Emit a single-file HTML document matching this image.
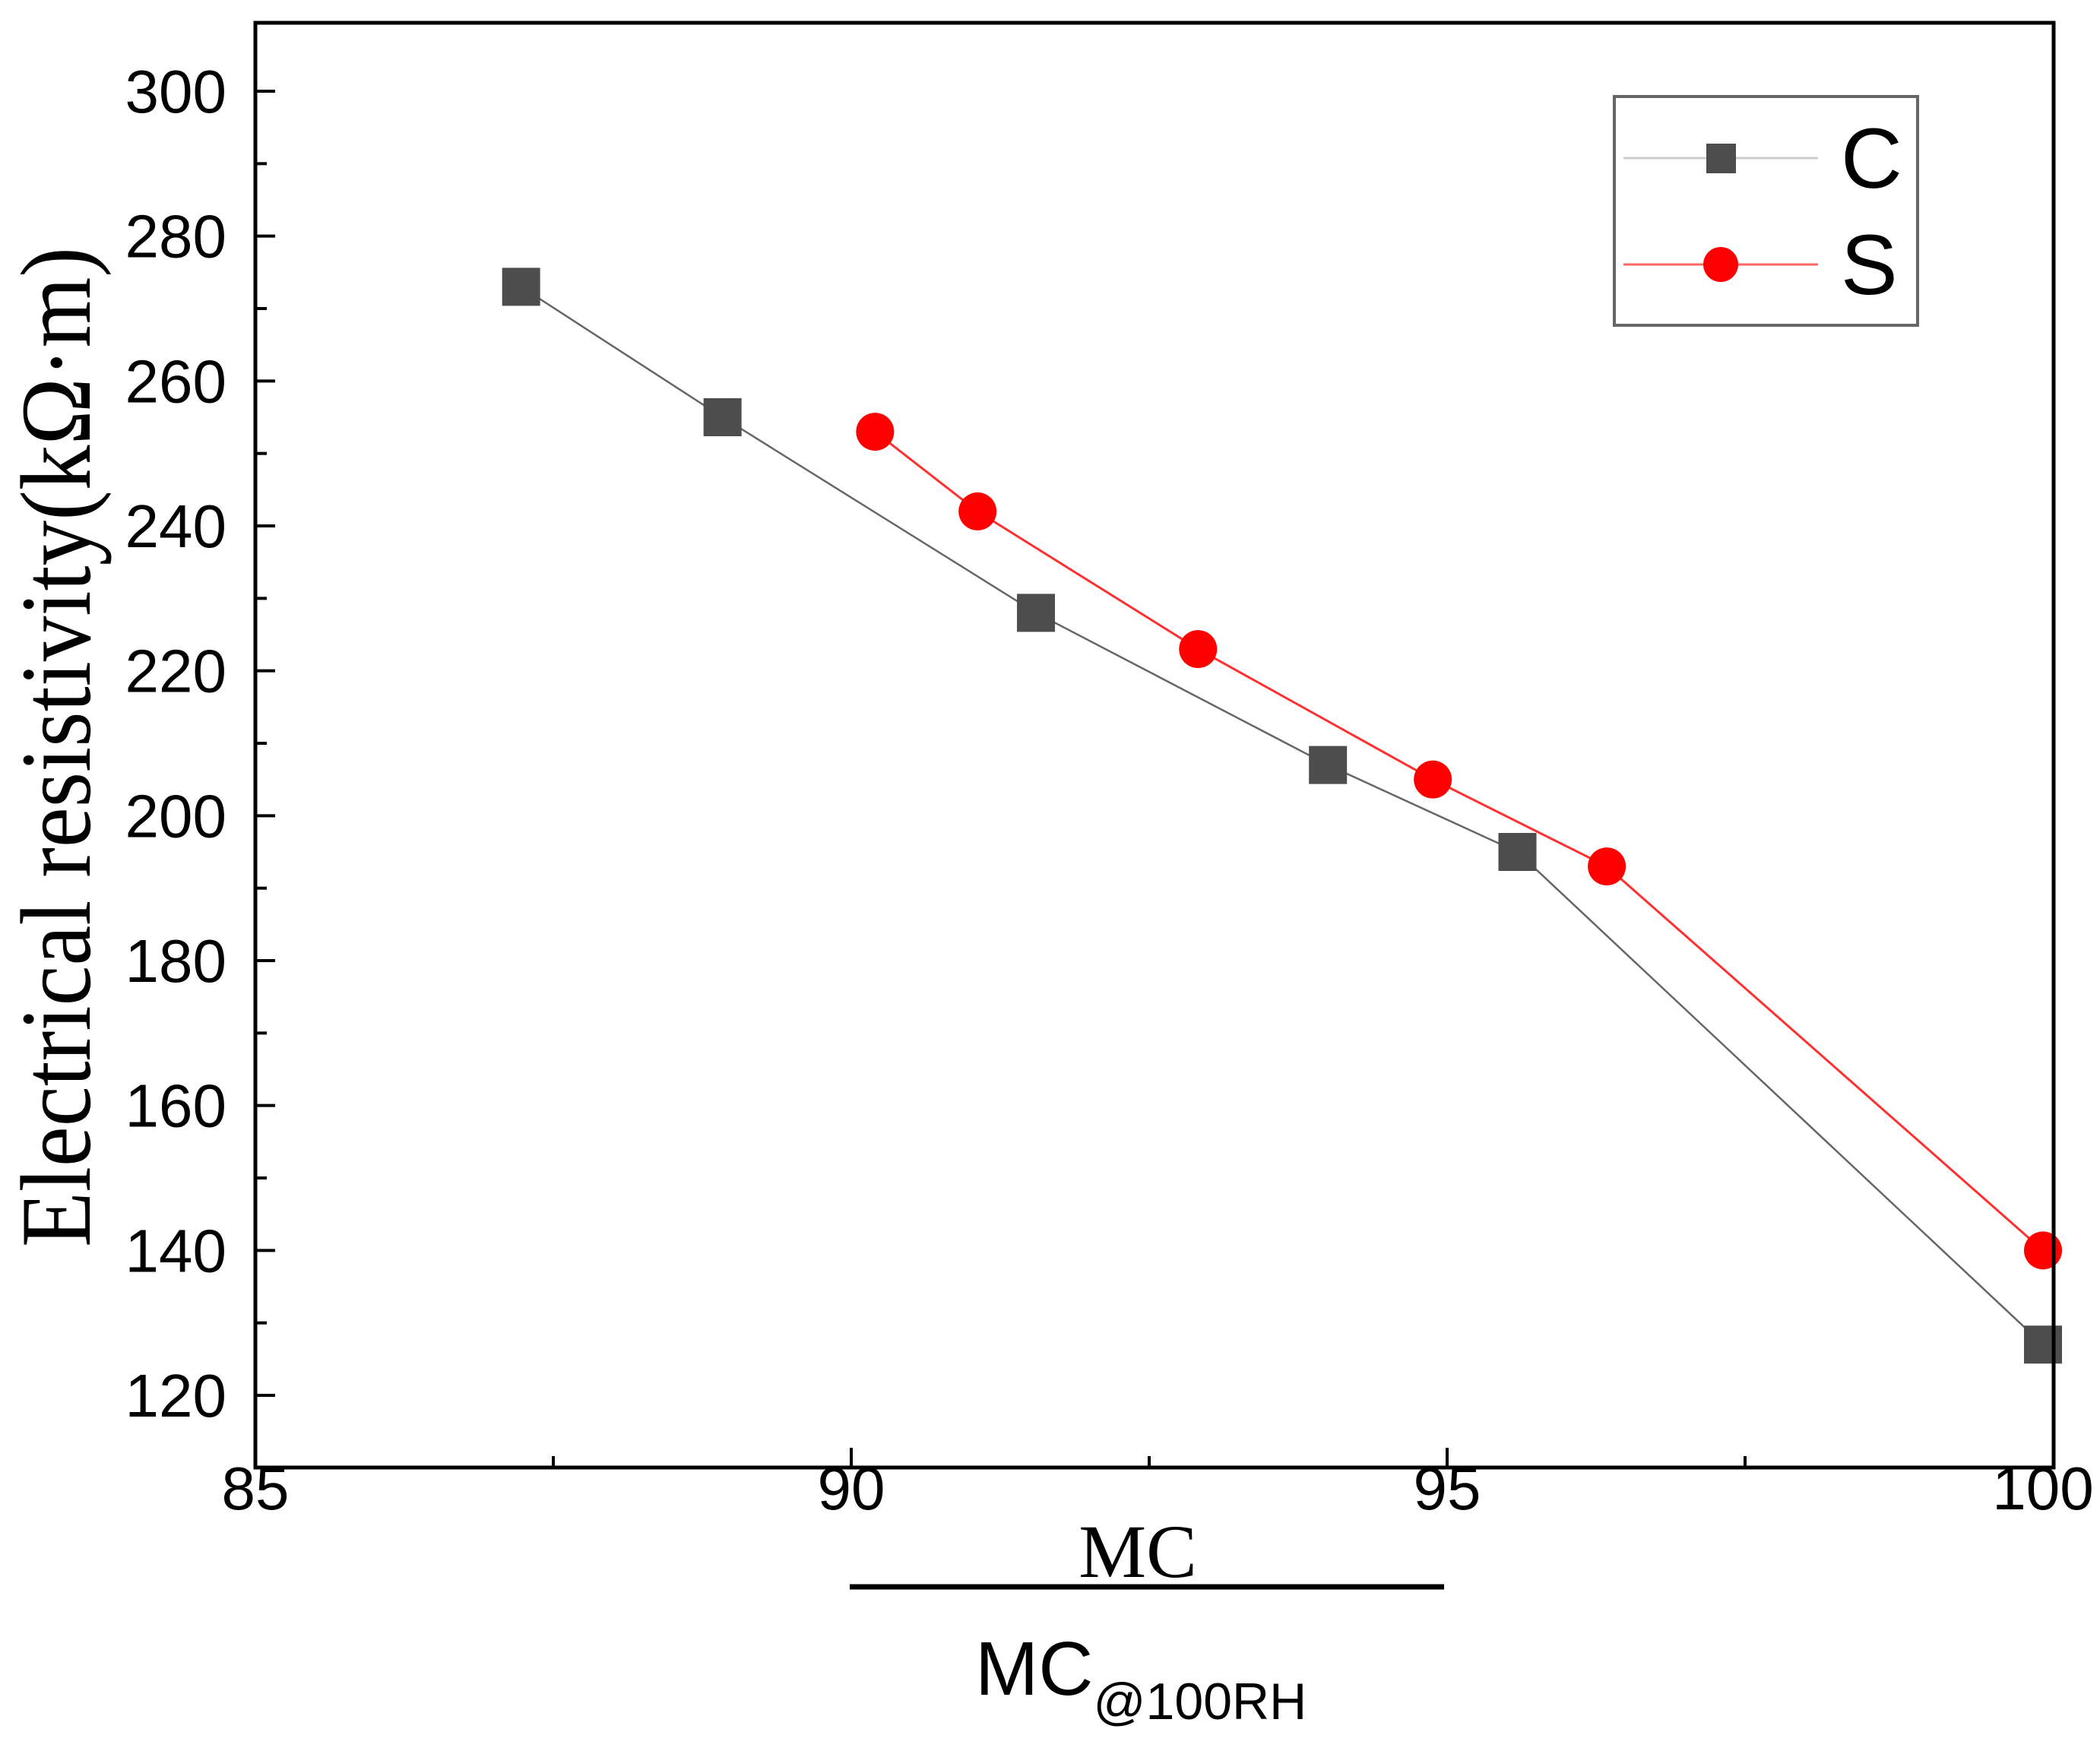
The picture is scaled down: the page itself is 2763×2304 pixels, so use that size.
<!DOCTYPE html>
<html><head><meta charset="utf-8"><style>
html,body{margin:0;padding:0;background:#fff;}
svg{display:block;}
</style></head><body>
<svg id="chart" width="2763" height="2304" viewBox="0 0 2763 2304" xmlns="http://www.w3.org/2000/svg">
<g id="axes"></g>
<g id="series"></g>
<rect x="336" y="30" width="2366" height="1901" fill="none" stroke="#000" stroke-width="5"/>
<text transform="translate(118,983) rotate(-90)" text-anchor="middle" font-family="Liberation Serif, serif" font-size="132" textLength="1316" lengthAdjust="spacingAndGlyphs">Electrical resistivity(kΩ·m)</text>
<text x="1497" y="2075" text-anchor="middle" font-family="Liberation Serif, serif" font-size="100">MC</text>
<line x1="1118" y1="2088" x2="1900" y2="2088" stroke="#000" stroke-width="7"/>
<text x="1283" y="2230" font-family="Liberation Sans, sans-serif" font-size="100">MC<tspan font-size="68" dy="32">@100RH</tspan></text>
<g>
<rect x="2124" y="127" width="399" height="301" fill="#fff" stroke="#666" stroke-width="4"/>
<line x1="2136" y1="208" x2="2392" y2="208" stroke="#ccc" stroke-width="3"/>
<rect x="2245" y="189" width="39" height="39" fill="#4d4d4d"/>
<text x="2422" y="247" font-family="Liberation Sans, sans-serif" font-size="112">C</text>
<line x1="2136" y1="348" x2="2392" y2="348" stroke="#ff6666" stroke-width="3"/>
<circle cx="2264" cy="348" r="23" fill="#f00"/>
<text x="2422" y="387" font-family="Liberation Sans, sans-serif" font-size="112">S</text>
</g>
</svg>
<script>
const cX = [87.23, 88.92, 91.55, 94.0, 95.59, 100];
const cY = [273, 255, 228, 207, 195, 127];
const sX = [90.2, 91.06, 92.91, 94.88, 96.34, 100];
const sY = [253, 242, 223, 205, 193, 140];
const xTicks = [85, 90, 95, 100];
const yTicks = [120, 140, 160, 180, 200, 220, 240, 260, 280, 300];

const NS = 'http://www.w3.org/2000/svg';
const X = v => 336 + (v - 85) * (2688 - 336) / 15;
const Y = v => 1836 - (v - 120) * (1836 - 120) / 180;
function mk(tag, attrs, parent) {
  const e = document.createElementNS(NS, tag);
  for (const k in attrs) e.setAttribute(k, attrs[k]);
  parent.appendChild(e);
  return e;
}
const axes = document.getElementById('axes');
const series = document.getElementById('series');
for (let v = 110; v <= 300; v += 10) {
  const major = v % 20 === 0;
  const t = mk('line', {x1: 336, x2: 336 + (major ? 26 : 15), y1: Y(v), y2: Y(v), stroke: '#000', 'stroke-width': 4}, axes);
  
  
}
yTicks.forEach(v => {
  const t = mk('text', {x: 298, y: Y(v) + 28, 'text-anchor': 'end', 'font-family': 'Liberation Sans, sans-serif', 'font-size': 80}, axes);
  t.textContent = v;
  
  
});
for (let v = 87.5; v < 100; v += 2.5) {
  const major = v % 5 === 0;
  const t = mk('line', {x1: X(v), x2: X(v), y1: 1931, y2: 1931 - (major ? 26 : 15), stroke: '#000', 'stroke-width': 4}, axes);
  
  
}
xTicks.forEach(v => {
  const t = mk('text', {x: X(v), y: 1986, 'text-anchor': 'middle', 'font-family': 'Liberation Sans, sans-serif', 'font-size': 80}, axes);
  t.textContent = v;
  
  
});
const pc = mk('polyline', {points: cX.map((x, i) => X(x) + ',' + Y(cY[i])).join(' '), fill: 'none', stroke: '#666', 'stroke-width': 2.5}, series);


const ps = mk('polyline', {points: sX.map((x, i) => X(x) + ',' + Y(sY[i])).join(' '), fill: 'none', stroke: '#ff3030', 'stroke-width': 3}, series);


cX.forEach((x, i) => {
  const m = mk('rect', {x: X(x) - 25, y: Y(cY[i]) - 25, width: 50, height: 50, fill: '#4d4d4d'}, series);
  
  
});
sX.forEach((x, i) => {
  const m = mk('circle', {cx: X(x), cy: Y(sY[i]), r: 25, fill: '#f00'}, series);
  
  
});
</script>
</body></html>
